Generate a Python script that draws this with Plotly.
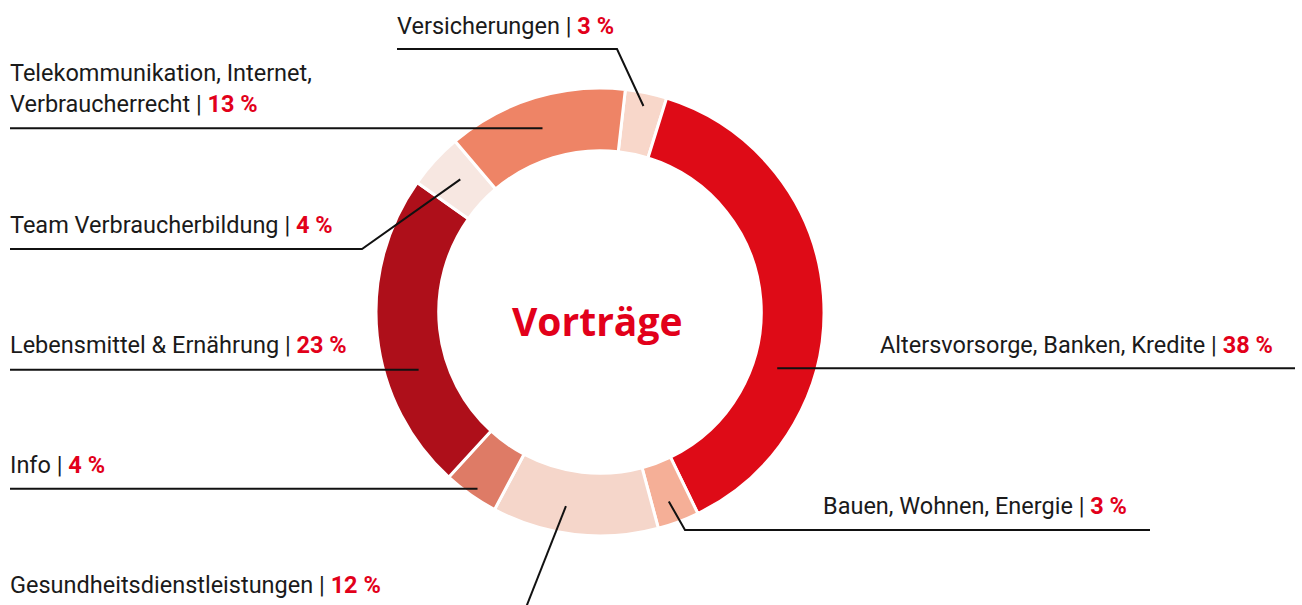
import math
import plotly.graph_objects as go

# ---- data ----
categories = ["Versicherungen", "Altersvorsorge, Banken, Kredite", "Bauen, Wohnen, Energie",
              "Gesundheitsdienstleistungen", "Info", "Lebensmittel & Ernährung",
              "Team Verbraucherbildung", "Telekommunikation, Internet, Verbraucherrecht"]
values = [3, 38, 3, 12, 4, 23, 4, 13]
colors = ["#F8D7CA", "#DE0B17", "#F5AF97", "#F5D6CA", "#DE7B66", "#AE0F1A", "#F7E7E1", "#EE8466"]
label_text = ["Versicherungen", "Altersvorsorge, Banken, Kredite", "Bauen, Wohnen, Energie",
              "Gesundheitsdienstleistungen", "Info", "Lebensmittel & Ernährung",
              "Team Verbraucherbildung", "Telekommunikation, Internet,<br>Verbraucherrecht"]
title = "Vorträge"

# ---- layout parameters (pixels) ----
W, H = 1302, 605
CX, CY, R = 600, 312, 224
HOLE = 0.72
ROT = 6.5
RED = "#E2001A"
TXT = "#1A1A1A"
FONT = "Roboto"
FS = 23.5

cfg = [
    dict(frac=0.5, rr=0.94, kind="elbow_left", line_y=49, x0=397, x1=617, tx=395, ty=26, align="left"),
    dict(frac=0.66, rr=0.83, kind="horiz_right", x1=1295, tx=1275, ty=345, align="right"),
    dict(frac=0.55, rr=0.90, kind="elbow_right", line_y=530, x0=685, x1=1150, tx=1129, ty=506, align="right"),
    dict(frac=0.58, rr=0.88, kind="down", y_end=650, tx=8, ty=585, align="left", slope=-0.394),
    dict(frac=0.46, rr=0.96, kind="horiz_left", x0=10, tx=8, ty=465, align="left"),
    dict(frac=0.36, rr=0.85, kind="horiz_left", x0=10, tx=8, ty=345, align="left"),
    dict(frac=0.57, rr=0.86, kind="elbow_left", line_y=249, x0=10, x1=362, tx=8, ty=225, align="left"),
    dict(frac=0.49, rr=0.86, kind="horiz_left", x0=10, tx=8, ty=88, align="left"),
]

total = sum(values)
fig = go.Figure()
fig.add_trace(go.Pie(
    values=values, labels=categories, hole=HOLE, sort=False, direction="clockwise",
    rotation=ROT, textinfo="none", hoverinfo="label+percent",
    marker=dict(colors=colors, line=dict(color="white", width=3)),
    domain=dict(x=[(CX - R) / W, (CX + R) / W], y=[(H - CY - R) / H, (H - CY + R) / H]),
    showlegend=False,
))
fig.add_trace(go.Scatter(x=[0, W], y=[0, H], mode="markers", marker=dict(opacity=0),
                         hoverinfo="skip", showlegend=False))

shapes = []
annotations = []
cum = 0.0
for i, v in enumerate(values):
    start = ROT + cum / total * 360
    span = v / total * 360
    cum += v
    c = cfg[i]
    ang = math.radians(start + c["frac"] * span)
    ax = CX + c["rr"] * R * math.sin(ang)
    ay = CY - c["rr"] * R * math.cos(ang)
    line = dict(color="#111111", width=2)
    if c["kind"] == "horiz_left":
        shapes.append(dict(type="line", x0=c["x0"], y0=ay, x1=ax, y1=ay, line=line))
    elif c["kind"] == "horiz_right":
        shapes.append(dict(type="line", x0=ax, y0=ay, x1=c["x1"], y1=ay, line=line))
    elif c["kind"] == "elbow_left":
        shapes.append(dict(type="path", path=f"M {c['x0']},{c['line_y']} L {c['x1']},{c['line_y']} L {ax},{ay}", line=line))
    elif c["kind"] == "elbow_right":
        shapes.append(dict(type="path", path=f"M {ax},{ay} L {c['x0']},{c['line_y']} L {c['x1']},{c['line_y']}", line=line))
    elif c["kind"] == "down":
        ex = ax + c["slope"] * (c["y_end"] - ay)
        shapes.append(dict(type="line", x0=ax, y0=ay, x1=ex, y1=c["y_end"], line=line))
    pct = f"{v} %"
    text = f"{label_text[i]} | <b><span style='color:{RED}'>{pct}</span></b>"
    annotations.append(dict(
        x=c["tx"], y=c["ty"], xref="x", yref="y", text=text, showarrow=False,
        xanchor=c["align"], yanchor="middle", align=c["align"],
        font=dict(family=FONT, size=FS, color=TXT),
    ))

annotations.append(dict(x=CX - 3, y=CY + 8, xref="x", yref="y", text=f"<b>{title}</b>", showarrow=False,
                        xanchor="center", yanchor="middle",
                        font=dict(family="Open Sans", size=39, color=RED)))

for s in shapes:
    s.update(xref="x", yref="y", layer="above")

fig.update_layout(
    width=W, height=H, margin=dict(l=0, r=0, t=0, b=0),
    paper_bgcolor="white", plot_bgcolor="white",
    xaxis=dict(range=[0, W], visible=False, fixedrange=True, domain=[0, 1]),
    yaxis=dict(range=[H, 0], visible=False, fixedrange=True, domain=[0, 1]),
    shapes=shapes, annotations=annotations, showlegend=False,
)
fig.write_html("out.html", config={"displayModeBar": False},
               post_script="document.body.style.margin='0';")
